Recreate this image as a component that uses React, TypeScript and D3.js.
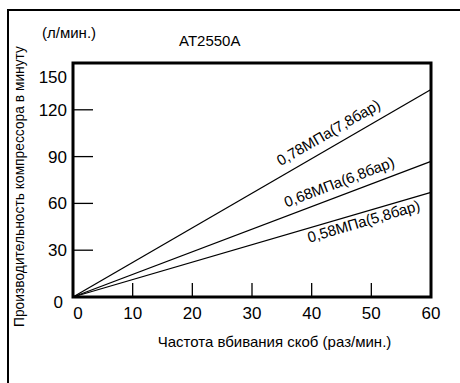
import React from 'react';
import * as d3 from 'd3';

// Data
const strikeRate = [0, 60];
const flow078 = [0, 133];
const flow068 = [0, 87];
const flow058 = [0, 67];
const seriesLabels = ['0,78МПа(7,8бар)', '0,68МПа(6,8бар)', '0,58МПа(5,8бар)'];
const xTicks = [0, 10, 20, 30, 40, 50, 60];
const yTicks = [0, 30, 60, 90, 120, 150];
const modelName = 'AT2550A';
const yUnit = '(л/мин.)';
const xTitle = 'Частота вбивания скоб (раз/мин.)';
const yTitle = 'Производительность компрессора в минуту';

const FONT = '"Liberation Sans", Arial, sans-serif';

export default function App() {
  const W = 460, H = 383;
  const x = d3.scaleLinear().domain([0, 60]).range([73, 431]);
  const y = d3.scaleLinear().domain([0, 150]).range([297, 63]);
  const line = d3.line<number>().x((_, i) => x(strikeRate[i])).y((d) => y(d));
  const allSeries = [flow078, flow068, flow058];
  // label placement: data-x along line, perpendicular offset (negative = above)
  const labelPos = [
    { at: 44, off: -9 },
    { at: 45.4, off: -8 },
    { at: 48.3, off: 14 },
  ];

  return (
    <svg width={W} height={H} style={{ position: 'absolute', left: 0, top: 0, background: '#fff' }}
      fontFamily={FONT}>
      <rect x={8} y={10} width={470} height={400} fill="none" stroke="#000" strokeWidth={2} />
      <text x={42} y={38} fontSize={15}>{yUnit}</text>
      <text x={179} y={46} fontSize={15}>{modelName}</text>
      <text transform={`translate(24,${(55 + 318) / 2}) rotate(-90)`} textAnchor="middle" fontSize={13.8}>{yTitle}</text>
      <text x={(151 + 398) / 2} y={347} textAnchor="middle" fontSize={15}>{xTitle}</text>

      {allSeries.map((s, i) => (
        <path key={i} d={line(s) || ''} fill="none" stroke="#000" strokeWidth={1.3} />
      ))}
      {allSeries.map((s, i) => {
        const slope = (y(s[1]) - y(s[0])) / (x(strikeRate[1]) - x(strikeRate[0]));
        const ang = (Math.atan(slope) * 180) / Math.PI;
        const px = x(labelPos[i].at);
        const py = y(s[0] + ((s[1] - s[0]) * (labelPos[i].at - strikeRate[0])) / (strikeRate[1] - strikeRate[0]));
        return (
          <text key={i} transform={`translate(${px},${py}) rotate(${ang})`} y={labelPos[i].off}
            textAnchor="middle" fontSize={15}>{seriesLabels[i]}</text>
        );
      })}

      {yTicks.filter((v) => v > 0 && v < 150).map((v) => (
        <line key={v} x1={x(0)} x2={x(0) + 20} y1={y(v)} y2={y(v)} stroke="#000" strokeWidth={1.3} />
      ))}
      {xTicks.filter((v) => v > 0 && v < 60).map((v) => (
        <line key={v} x1={x(v)} x2={x(v)} y1={y(0)} y2={y(0) - 14} stroke="#000" strokeWidth={1.3} />
      ))}
      <rect x={x(0)} y={y(150)} width={x(60) - x(0)} height={y(0) - y(150)} fill="none" stroke="#000" strokeWidth={3} />

      {yTicks.map((v) => (
        <text key={v} x={v === 0 ? 63 : 67} y={y(v) + 6 + (v === 150 ? 14 : v === 0 ? 5 : 0)}
          textAnchor="end" fontSize={17}>{v}</text>
      ))}
      {xTicks.map((v) => (
        <text key={v} x={x(v) + (v === 0 ? 5 : 0)} y={319} textAnchor="middle" fontSize={17}>{v}</text>
      ))}
    </svg>
  );
}
